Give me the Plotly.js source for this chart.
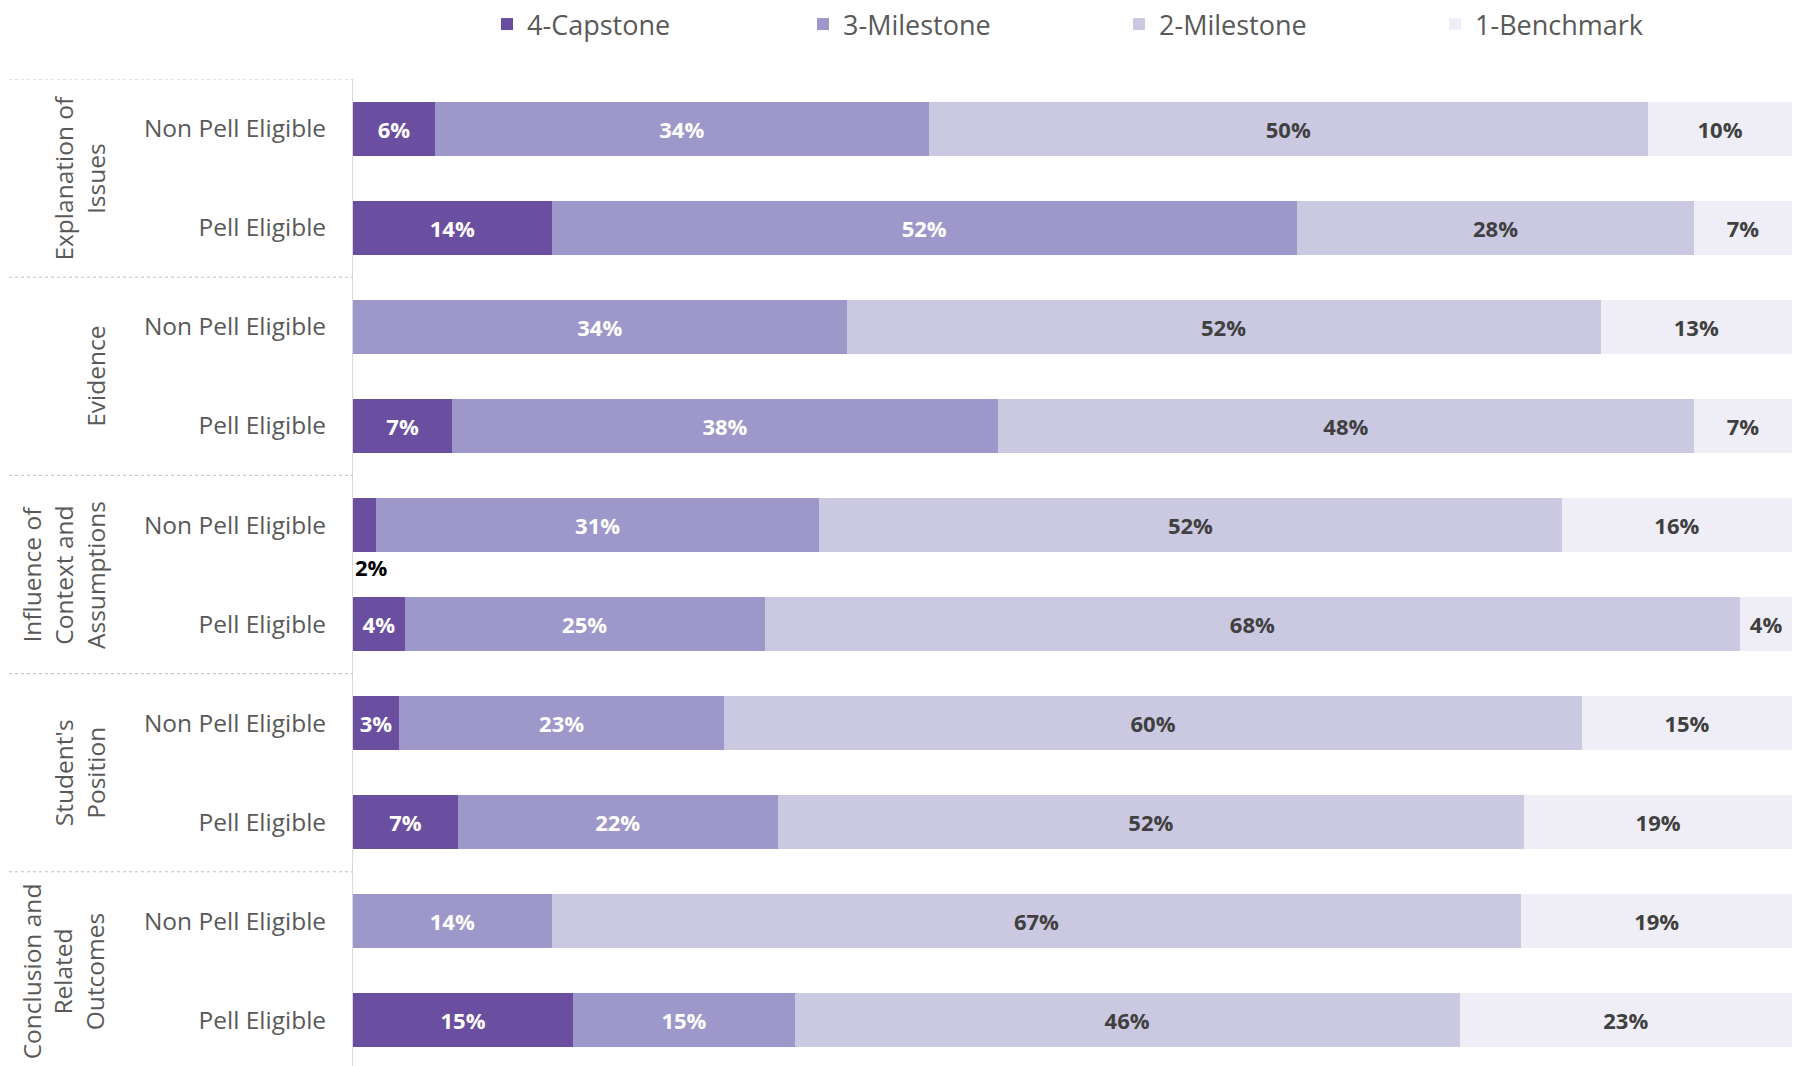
<!DOCTYPE html>
<html>
<head>
<meta charset="utf-8">
<script src="https://cdn.plot.ly/plotly-3.0.1.min.js"></script>
<style>
  html, body { margin: 0; padding: 0; background: #ffffff; }
  #chart { width: 1797px; height: 1066px; }
</style>
</head>
<body>
<div id="chart"></div>
<script>
// ---- Data ----
const groups = ["Explanation of Issues", "Evidence", "Influence of Context and Assumptions", "Student's Position", "Conclusion and Related Outcomes"];
const groupLabels = ["Explanation of<br>Issues", "Evidence", "Influence of<br>Context and<br>Assumptions", "Student's<br>Position", "Conclusion and<br>Related<br>Outcomes"];
const subgroups = ["Non Pell Eligible", "Pell Eligible"];
const seriesNames = ["4-Capstone", "3-Milestone", "2-Milestone", "1-Benchmark"];

// percent values, rows in order: group x subgroup (top to bottom)
const capstone   = [5.7, 13.8, 0,    6.9,  1.6,  3.6,  3.2,  7.3,  0,    15.3];
const milestone3 = [34.3, 51.8, 34.3, 37.9, 30.8, 25.0, 22.6, 22.2, 13.8, 15.4];
const milestone2 = [50.0, 27.6, 52.4, 48.4, 51.6, 67.8, 59.6, 51.9, 67.4, 46.2];
const benchmark  = [10.0, 6.8,  13.3, 6.8,  16.0, 3.6,  14.6, 18.6, 18.8, 23.1];

// ---- Build ----
const keys = [], ticktext = [];
groups.forEach(g => subgroups.forEach(s => { keys.push(g + "|" + s); ticktext.push(s); }));

const colors = ["#6A4FA0", "#9D98C9", "#CBC8E2", "#EFEEF6"];
const textColors = ["#FFFFFF", "#FFFFFF", "#404040", "#404040"];
const allSeries = [capstone, milestone3, milestone2, benchmark];
const FONT = "Open Sans, DejaVu Sans, sans-serif";

const annotations = [];
const traces = allSeries.map((vals, i) => {
  const text = vals.map((v, j) => {
    if (v <= 0) return "";
    const lbl = Math.round(v) + "%";
    if (v < 2.5) {
      annotations.push({
        x: 0, y: j, xref: "x", yref: "y", text: "<b>" + lbl + "</b>",
        showarrow: false, xanchor: "left", yanchor: "middle", yshift: -42,
        font: { family: FONT, size: 22, color: "#000000" }
      });
      return "";
    }
    return lbl;
  });
  return {
    type: "bar", orientation: "h", name: seriesNames[i],
    x: vals, y: keys.map((k, j) => j),
    marker: { color: colors[i], line: { width: 0 } },
    text: text, texttemplate: "<b>%{text}</b>",
    textposition: "inside", insidetextanchor: "middle", textangle: 0,
    constraintext: "none",
    insidetextfont: { family: FONT, size: 22, color: textColors[i] },
    hoverinfo: "x+name"
  };
});

// group labels and separators
const shapes = [];
const gpx = (px) => (px - 353) / 1439;  // pixel -> paper x
groups.forEach((g, gi) => {
  const y0 = gi * subgroups.length - 0.5;
  shapes.push({ type: "line", xref: "paper", yref: "y", x0: gpx(9), x1: 0, y0: y0, y1: y0,
                line: { color: "#BFBFBF", width: 1, dash: "dot" } });
  annotations.push({
    xref: "paper", yref: "y", x: gpx(114), y: y0 + subgroups.length / 2,
    text: groupLabels[gi], showarrow: false, textangle: -90,
    xanchor: "right", yanchor: "middle", align: "center",
    font: { family: FONT, size: 24.5, color: "#595959" }
  });
});

const layout = {
  width: 1797, height: 1066,
  margin: { l: 353, r: 5, t: 78, b: 0, pad: 0 },
  paper_bgcolor: "#FFFFFF", plot_bgcolor: "#FFFFFF",
  barmode: "stack", bargap: 0.455,
  font: { family: FONT, color: "#595959" },
  xaxis: { range: [0, 100], visible: false, fixedrange: true },
  yaxis: {
    range: [9.46, -0.5], tickmode: "array",
    tickvals: keys.map((k, j) => j), ticktext: ticktext,
    showgrid: false, zeroline: false, ticks: "",
    showline: true, linecolor: "#D9D9D9", linewidth: 1,
    ticklabelstandoff: 21,
    tickfont: { family: FONT, size: 24.5, color: "#595959" }
  },
  showlegend: true,
  legend: {
    orientation: "h", x: gpx(487), xanchor: "left", y: 1.0557, yanchor: "middle",
    traceorder: "normal", entrywidth: 271, entrywidthmode: "pixels",
    itemwidth: 30, itemclick: false, itemdoubleclick: false,
    font: { family: FONT, size: 27, color: "#595959" }
  },
  shapes: shapes,
  annotations: annotations
};

Plotly.newPlot("chart", traces, layout, { displayModeBar: false, staticPlot: true });
</script>
</body>
</html>
